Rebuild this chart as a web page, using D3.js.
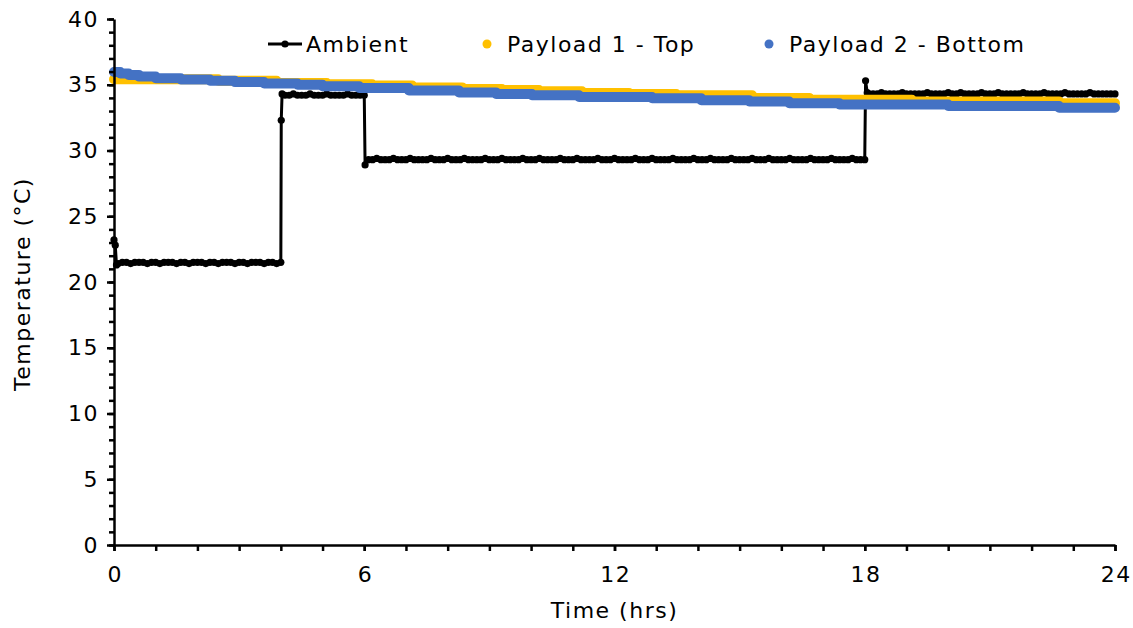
<!DOCTYPE html>
<html><head><meta charset="utf-8">
<script src="https://cdn.jsdelivr.net/npm/d3@7"></script>
<style>
body{margin:0;background:#fff}
svg{display:block}
text{font-family:"DejaVu Sans",sans-serif;fill:#000}
</style>
</head><body>
<svg id="chart" width="1133" height="628"></svg>
<script>
// ---------- data ----------
const seriesNames = ["Ambient", "Payload 1 - Top", "Payload 2 - Bottom"];
const seriesColors = ["#000000", "#FFC000", "#4472C4"];
const xMajorTicks = [0, 6, 12, 18, 24];
const xMinorTicks = [0,1,2,3,4,5,6,7,8,9,10,11,12,13,14,15,16,17,18,19,20,21,22,23,24];
const yMajorTicks = [0, 5, 10, 15, 20, 25, 30, 35, 40];
const yMinorTicks = [0,1,2,3,4,5,6,7,8,9,10,11,12,13,14,15,16,17,18,19,20,21,22,23,24,25,26,27,28,29,30,31,32,33,34,35,36,37,38,39,40];
const xTitle = "Time (hrs)";
const yTitle = "Temperature (°C)";

// Ambient: [hours, °C]
const ambient = [
  [0,23.2],[0.03,22.8],[0.06,21.3],
  [0.1,21.4],[0.2,21.5],[0.3,21.5],[0.4,21.4],[0.5,21.5],[0.6,21.5],[0.7,21.5],[0.8,21.4],[0.9,21.5],[1.0,21.5],
  [1.1,21.4],[1.2,21.5],[1.3,21.5],[1.4,21.5],[1.5,21.4],[1.6,21.5],[1.7,21.5],[1.8,21.4],[1.9,21.5],[2.0,21.5],
  [2.1,21.5],[2.2,21.4],[2.3,21.5],[2.4,21.5],[2.5,21.4],[2.6,21.5],[2.7,21.5],[2.8,21.5],[2.9,21.4],[3.0,21.5],
  [3.1,21.5],[3.2,21.4],[3.3,21.5],[3.4,21.5],[3.5,21.5],[3.6,21.4],[3.7,21.5],[3.8,21.5],[3.9,21.4],[4.0,21.5],
  [4.01,32.3],[4.03,34.3],
  [4.1,34.2],[4.2,34.2],[4.3,34.3],[4.4,34.2],[4.5,34.2],[4.6,34.2],[4.7,34.3],[4.8,34.2],[4.9,34.2],[5.0,34.2],
  [5.1,34.3],[5.2,34.2],[5.3,34.2],[5.4,34.2],[5.5,34.2],[5.6,34.3],[5.7,34.2],[5.8,34.2],[5.9,34.2],[6.0,34.2],
  [6.02,28.9],
  [6.1,29.3],[6.2,29.3],[6.3,29.4],[6.4,29.3],[6.5,29.3],[6.6,29.3],[6.7,29.4],[6.8,29.3],[6.9,29.3],[7.0,29.3],
  [7.1,29.4],[7.2,29.3],[7.3,29.3],[7.4,29.3],[7.5,29.3],[7.6,29.4],[7.7,29.3],[7.8,29.3],[7.9,29.3],[8.0,29.4],
  [8.1,29.3],[8.2,29.3],[8.3,29.3],[8.4,29.4],[8.5,29.3],[8.6,29.3],[8.7,29.3],[8.8,29.3],[8.9,29.4],[9.0,29.3],
  [9.1,29.3],[9.2,29.3],[9.3,29.4],[9.4,29.3],[9.5,29.3],[9.6,29.3],[9.7,29.3],[9.8,29.4],[9.9,29.3],[10.0,29.3],
  [10.1,29.3],[10.2,29.4],[10.3,29.3],[10.4,29.3],[10.5,29.3],[10.6,29.3],[10.7,29.4],[10.8,29.3],[10.9,29.3],[11.0,29.3],
  [11.1,29.4],[11.2,29.3],[11.3,29.3],[11.4,29.3],[11.5,29.3],[11.6,29.4],[11.7,29.3],[11.8,29.3],[11.9,29.3],[12.0,29.4],
  [12.1,29.3],[12.2,29.3],[12.3,29.3],[12.4,29.3],[12.5,29.4],[12.6,29.3],[12.7,29.3],[12.8,29.3],[12.9,29.4],[13.0,29.3],
  [13.1,29.3],[13.2,29.3],[13.3,29.3],[13.4,29.4],[13.5,29.3],[13.6,29.3],[13.7,29.3],[13.8,29.3],[13.9,29.4],[14.0,29.3],
  [14.1,29.3],[14.2,29.3],[14.3,29.4],[14.4,29.3],[14.5,29.3],[14.6,29.3],[14.7,29.3],[14.8,29.4],[14.9,29.3],[15.0,29.3],
  [15.1,29.3],[15.2,29.3],[15.3,29.4],[15.4,29.3],[15.5,29.3],[15.6,29.3],[15.7,29.4],[15.8,29.3],[15.9,29.3],[16.0,29.3],
  [16.1,29.3],[16.2,29.4],[16.3,29.3],[16.4,29.3],[16.5,29.3],[16.6,29.3],[16.7,29.4],[16.8,29.3],[16.9,29.3],[17.0,29.3],
  [17.1,29.3],[17.2,29.4],[17.3,29.3],[17.4,29.3],[17.5,29.3],[17.6,29.3],[17.7,29.4],[17.8,29.3],[17.9,29.3],[18.0,29.3],
  [18.02,35.3],[18.06,34.4],
  [18.1,34.3],[18.2,34.3],[18.3,34.3],[18.4,34.4],[18.5,34.3],[18.6,34.3],[18.7,34.3],[18.8,34.3],[18.9,34.4],[19.0,34.3],
  [19.1,34.3],[19.2,34.3],[19.3,34.3],[19.4,34.3],[19.5,34.4],[19.6,34.3],[19.7,34.3],[19.8,34.3],[19.9,34.3],[20.0,34.4],
  [20.1,34.3],[20.2,34.3],[20.3,34.4],[20.4,34.3],[20.5,34.3],[20.6,34.3],[20.7,34.3],[20.8,34.4],[20.9,34.3],[21.0,34.3],
  [21.1,34.3],[21.2,34.4],[21.3,34.3],[21.4,34.3],[21.5,34.3],[21.6,34.3],[21.7,34.3],[21.8,34.4],[21.9,34.3],[22.0,34.3],
  [22.1,34.3],[22.2,34.3],[22.3,34.4],[22.4,34.3],[22.5,34.3],[22.6,34.3],[22.7,34.3],[22.8,34.4],[22.9,34.3],[23.0,34.3],
  [23.1,34.3],[23.2,34.3],[23.3,34.3],[23.4,34.4],[23.5,34.3],[23.6,34.3],[23.7,34.3],[23.8,34.3],[23.9,34.3],[24.0,34.3]
];

// Payload 1 - Top: [hours, °C] at each change of reading
const payload1 = [
  [0,35.42],[2.5,35.3],[3.9,35.13],[5.1,35.03],[6.19,34.94],[7.15,34.8],[8.35,34.68],[9.3,34.6],
  [10.19,34.5],[11.22,34.37],[12.35,34.3],[13.48,34.2],[15.3,34.0],[16.67,33.85],[19.13,33.72],
  [22.66,33.6],[24,33.6]
];

// Payload 2 - Bottom: [hours, °C] at each change of reading
const payload2 = [
  [0,35.97],[0.15,35.85],[0.35,35.75],[0.6,35.62],[1.0,35.5],[1.6,35.4],[2.3,35.3],[2.9,35.2],
  [3.6,35.1],[4.4,35.0],[5.0,34.88],[5.88,34.75],[7.07,34.57],[8.27,34.42],[9.16,34.3],[10.02,34.2],
  [11.15,34.07],[12.9,33.97],[14.08,33.83],[15.23,33.73],[16.19,33.6],[17.39,33.5],[20.0,33.38],
  [22.66,33.25],[24,33.25]
];

// ---------- layout ----------
const plot = {left: 114, right: 1115, top: 19, bottom: 545};
const svg = d3.select("#chart");
const fontSize = 22;
const letterSp = 1.5;

const x = d3.scaleLinear().domain([0, 24]).range([plot.left, plot.right]);
const y = d3.scaleLinear().domain([0, 40]).range([plot.bottom, plot.top]);

// ---------- series ----------
const g = svg.append("g");

// Ambient line + markers
g.append("path")
  .datum(ambient)
  .attr("fill", "none")
  .attr("stroke", seriesColors[0])
  .attr("stroke-width", 3)
  .attr("stroke-linejoin", "round")
  .attr("d", d3.line().x(d => x(d[0])).y(d => y(d[1])));
g.append("g").selectAll("circle")
  .data(ambient).join("circle")
  .attr("cx", d => x(d[0])).attr("cy", d => y(d[1]))
  .attr("r", 3.6).attr("fill", seriesColors[0]);

// Payload series: dense readings rendered as thick stepped bands
[[payload1, seriesColors[1]], [payload2, seriesColors[2]]].forEach(([data, col]) => {
  g.append("path")
    .datum(data)
    .attr("fill", "none")
    .attr("stroke", col)
    .attr("stroke-width", 10)
    .attr("stroke-linecap", "round")
    .attr("stroke-linejoin", "round")
    .attr("d", d3.line().curve(d3.curveStepAfter).x(d => x(d[0])).y(d => y(d[1])));
});

// ---------- axes ----------
function styleText(sel) {
  sel.attr("font-size", fontSize).attr("font-family", "DejaVu Sans")
     .attr("fill", "#000").attr("letter-spacing", letterSp);
}

// x minor ticks
const xMinor = svg.append("g").attr("transform", `translate(0,${plot.bottom})`)
  .call(d3.axisBottom(x).tickValues(xMinorTicks).tickSize(6).tickFormat(""));
xMinor.select(".domain").remove();
xMinor.selectAll("line").attr("stroke", "#000").attr("stroke-width", 2.5);

const xAxis = svg.append("g").attr("transform", `translate(0,${plot.bottom})`)
  .call(d3.axisBottom(x).tickValues(xMajorTicks).tickSize(6).tickSizeOuter(0).tickPadding(15).tickFormat(d3.format("d")));
xAxis.select(".domain").attr("stroke", "#000").attr("stroke-width", 2.5);
xAxis.selectAll("line").attr("stroke", "#000").attr("stroke-width", 2.5);
xAxis.selectAll("text").call(styleText).attr("dx", letterSp / 2);

// y minor ticks
const yMinor = svg.append("g").attr("transform", `translate(${plot.left},0)`)
  .call(d3.axisLeft(y).tickValues(yMinorTicks).tickSize(5).tickFormat(""));
yMinor.select(".domain").remove();
yMinor.selectAll("line").attr("stroke", "#000").attr("stroke-width", 2.5);

const yAxis = svg.append("g").attr("transform", `translate(${plot.left},0)`)
  .call(d3.axisLeft(y).tickValues(yMajorTicks).tickSize(7).tickSizeOuter(0).tickPadding(8).tickFormat(d3.format("d")));
yAxis.select(".domain").attr("stroke", "#000").attr("stroke-width", 2.5);
yAxis.selectAll("line").attr("stroke", "#000").attr("stroke-width", 2.5);
yAxis.selectAll("text").call(styleText);

// axis titles
svg.append("text")
  .attr("x", (plot.left + plot.right) / 2).attr("y", 618)
  .attr("text-anchor", "middle")
  .call(styleText)
  .text(xTitle);
svg.append("text")
  .attr("transform", `translate(30,${(plot.top + plot.bottom) / 2 + 2}) rotate(-90)`)
  .attr("text-anchor", "middle")
  .call(styleText)
  .text(yTitle);

// ---------- legend ----------
const legendY = 44;
const legendItems = [
  {name: seriesNames[0], color: seriesColors[0], symX: 285, textX: 306, type: "line"},
  {name: seriesNames[1], color: seriesColors[1], symX: 487, textX: 507, type: "dot"},
  {name: seriesNames[2], color: seriesColors[2], symX: 769, textX: 789, type: "dot"}
];
const legend = svg.append("g");
legendItems.forEach(it => {
  if (it.type === "line") {
    legend.append("line").attr("x1", it.symX - 17).attr("x2", it.symX + 17)
      .attr("y1", legendY).attr("y2", legendY)
      .attr("stroke", it.color).attr("stroke-width", 3);
    legend.append("circle").attr("cx", it.symX).attr("cy", legendY).attr("r", 3.6).attr("fill", it.color);
  } else {
    legend.append("circle").attr("cx", it.symX).attr("cy", legendY).attr("r", 4.5).attr("fill", it.color);
  }
  legend.append("text").attr("x", it.textX).attr("y", legendY)
    .attr("dy", "0.36em")
    .call(styleText)
    .text(it.name);
});
</script>
</body></html>
